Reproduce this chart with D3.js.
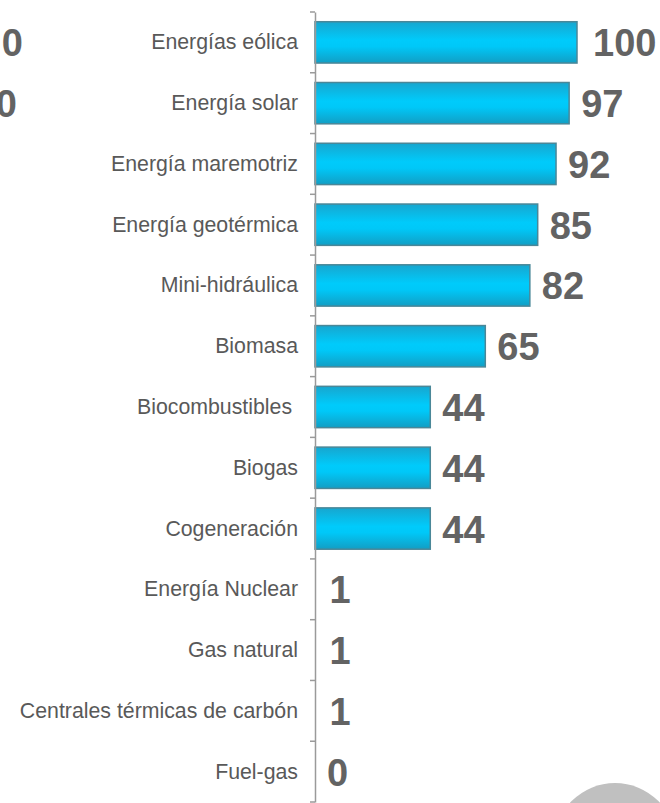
<!DOCTYPE html>
<html>
<head>
<meta charset="utf-8">
<script src="https://cdn.jsdelivr.net/npm/d3@7/dist/d3.min.js"></script>
<style>
  html, body { margin: 0; padding: 0; background: #ffffff; }
  svg { display: block; }
  text { font-family: "Liberation Sans", Arial, sans-serif; white-space: pre; }
</style>
</head>
<body>
<svg id="chart" width="660" height="803"></svg>
<script>
const categories = [
  "Energías eólica", "Energía solar", "Energía maremotriz", "Energía geotérmica",
  "Mini-hidráulica", "Biomasa", "Biocombustibles ", "Biogas", "Cogeneración",
  "Energía Nuclear", "Gas natural", "Centrales térmicas de carbón", "Fuel-gas"
];
const values = [100, 97, 92, 85, 82, 65, 44, 44, 44, 1, 1, 1, 0];
const valueLabels = ["100", "97", "92", "85", "82", "65", "44", "44", "44", "1", "1", "1", "0"];
const edgeLabels = ["0", "0"];

const svg = d3.select("#chart");

const defs = svg.append("defs");
const grad = defs.append("linearGradient")
  .attr("id", "barGrad").attr("x1", 0).attr("y1", 0).attr("x2", 0).attr("y2", 1);
grad.append("stop").attr("offset", "0%").attr("stop-color", "#17a6cf");
grad.append("stop").attr("offset", "45%").attr("stop-color", "#00cbfb");
grad.append("stop").attr("offset", "60%").attr("stop-color", "#00c8f8");
grad.append("stop").attr("offset", "100%").attr("stop-color", "#129ec4");

const y = d3.scaleBand()
  .domain(categories)
  .range([12, 802])
  .paddingInner(0.32)
  .paddingOuter(0.16);

const x = d3.scaleLinear().domain([0, 100]).range([315, 577]);

// decorative partial labels at the left edge
const edgeY = d3.scaleBand().domain(edgeLabels.map((d, i) => i)).range([12, 133]);
svg.append("g").selectAll("text")
  .data(edgeLabels)
  .join("text")
  .attr("x", (d, i) => i === 0 ? 23 : 17)
  .attr("y", (d, i) => edgeY(i) + edgeY.bandwidth() / 2 + 14)
  .attr("text-anchor", "end")
  .attr("font-size", 38)
  .attr("font-weight", "bold")
  .attr("fill", "#636363")
  .text(d => d);

// bars (very small values are not visible in the original)
svg.append("g").selectAll("rect")
  .data(values)
  .join("rect")
  .attr("x", x(0))
  .attr("y", (d, i) => y(categories[i]))
  .attr("width", d => Math.max(0, x(d) - x(0)))
  .attr("height", y.bandwidth())
  .attr("fill", "url(#barGrad)")
  .attr("stroke", "#4a8798")
  .attr("stroke-width", 1.5)
  .attr("opacity", d => (x(d) - x(0)) < 4 ? 0 : 1);

// axis
const axis = d3.axisLeft(y).tickSize(0).tickFormat("");
const gAxis = svg.append("g").attr("transform", `translate(${x(0)},0)`).call(axis);
gAxis.select(".domain").attr("stroke", "#9a9a9a").attr("stroke-width", 1.5);
const step = y.step();
const boundaries = d3.range(categories.length + 1).map(i => y.range()[0] + i * step);
svg.append("g").selectAll("line")
  .data(boundaries)
  .join("line")
  .attr("x1", x(0) - 5).attr("x2", x(0))
  .attr("y1", d => d).attr("y2", d => d)
  .attr("stroke", "#9a9a9a").attr("stroke-width", 1.5);

// category labels
svg.append("g").selectAll("text")
  .data(categories)
  .join("text")
  .attr("x", x(0) - 17)
  .attr("y", d => y(d) + y.bandwidth() / 2 + 7)
  .attr("text-anchor", "end")
  .attr("font-size", 21.3)
  .attr("fill", "#595959")
  .text(d => d);

// value labels
svg.append("g").selectAll("text")
  .data(values)
  .join("text")
  .attr("x", d => x(d) + (d >= 100 ? 16 : 12))
  .attr("y", (d, i) => y(categories[i]) + y.bandwidth() / 2 + 14)
  .attr("font-size", 38)
  .attr("font-weight", "bold")
  .attr("fill", "#636363")
  .text((d, i) => valueLabels[i]);

// decorative circle bottom right
svg.append("circle")
  .attr("cx", 615).attr("cy", 844).attr("r", 61)
  .attr("fill", "#c0c0c0");
</script>
</body>
</html>
